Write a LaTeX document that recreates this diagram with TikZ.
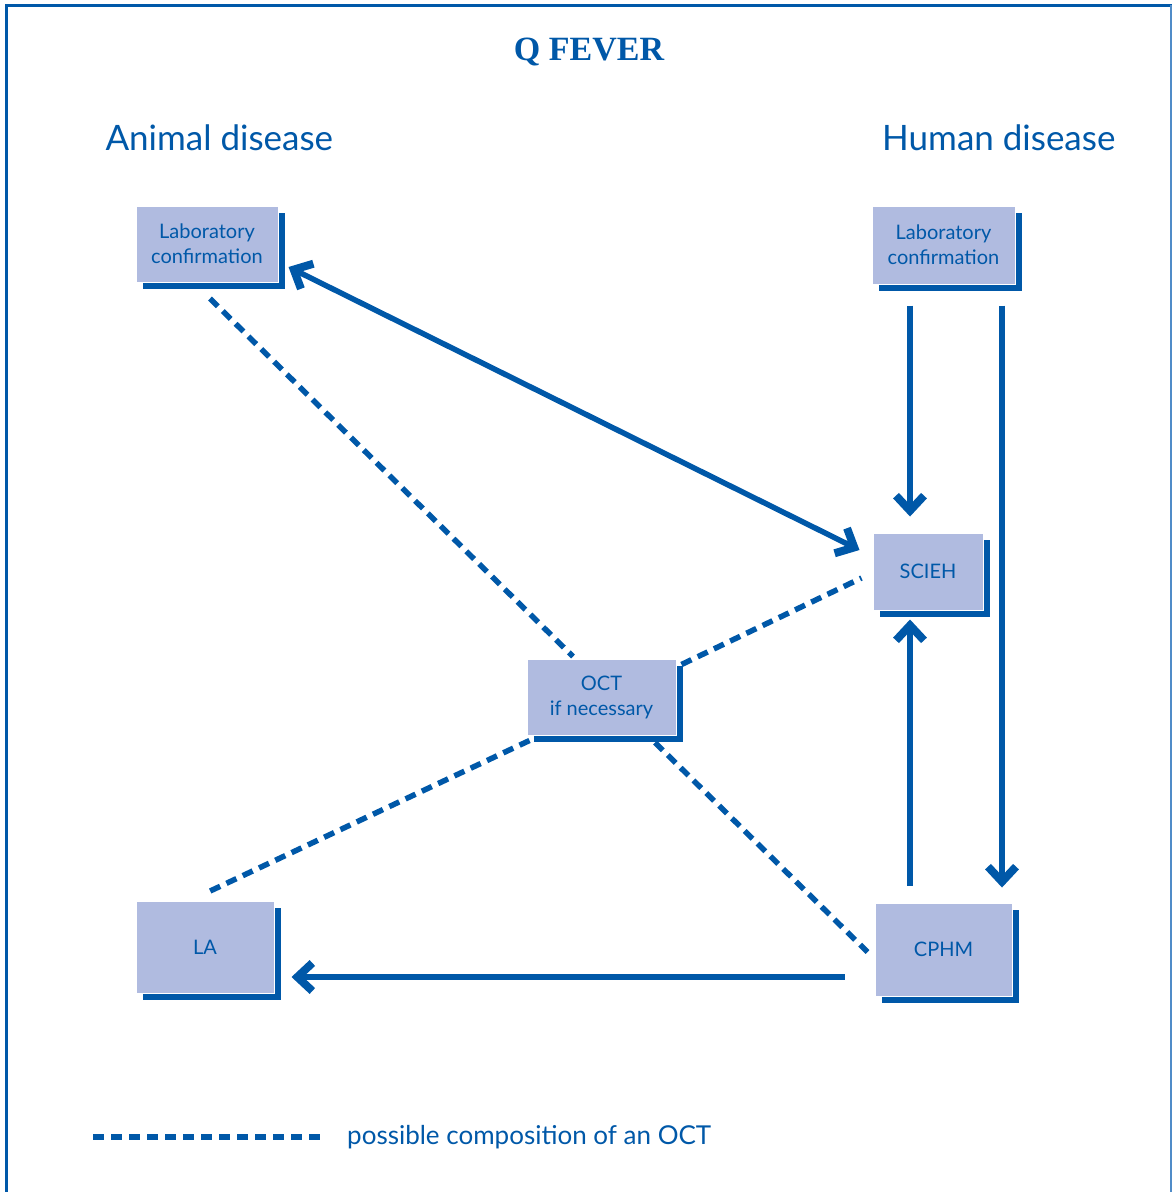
\documentclass[tikz,border=0pt]{standalone}
\usepackage{fontspec}
\setmainfont{Lato}
\newfontfamily\titlefont{Liberation Serif}
\usetikzlibrary{arrows.meta,shadows,calc}
\definecolor{qblue}{RGB}{0,88,168}
\definecolor{qfill}{RGB}{176,187,224}
\definecolor{qframe}{RGB}{80,140,200}
\tikzset{
  qbox/.style={draw=white, line width=1pt, fill=qfill, text=qblue, align=center,
    inner sep=0pt, font=\fontsize{20}{25}\selectfont,
    general shadow={fill=qblue, shadow xshift=7pt, shadow yshift=-7pt}},
  qhead/.style={text=qblue, font=\fontsize{35}{40}\selectfont},
  qtip/.tip={Straight Barb[length=15pt,width=28pt,line width=8pt,line join=miter]},
  qarrow/.style={draw=qblue, line width=5.5pt, -qtip},
  qdash/.style={draw=qblue, line width=5.5pt, dash pattern=on 11pt off 7pt}
}
\begin{document}
\begin{tikzpicture}[x=1pt,y=-1pt]
\useasboundingbox (0,0) rectangle (1172,1192);
% frame
\draw[qblue, line width=3pt] (6,1192) -- (6,5) -- (1172,5);
\draw[qframe, line width=1.5pt] (1171,5) -- (1171,1192);

% headings
\node[text=qblue, font=\titlefont\bfseries\fontsize{34}{36}\selectfont] (title) at (589,52) {Q FEVER};
\node[qhead, anchor=west] (animal) at (102,138) {Animal disease};
\node[qhead, anchor=east] (human) at (1119,138) {Human disease};

% boxes
\node[qbox, minimum width=142pt, minimum height=76pt] (labL) at (207,244) {Laboratory\\confirmation};
\node[qbox, minimum width=143pt, minimum height=78pt] (labR) at (943.5,245) {Laboratory\\confirmation};
\node[qbox, minimum width=110pt, minimum height=77pt] (scieh) at (928,571.5) {SCIEH};
\node[qbox, minimum width=149pt, minimum height=76pt] (oct) at (601.5,697) {OCT\\if necessary};
\node[qbox, minimum width=137pt, minimum height=93pt] (cphm) at (943.5,949.5) {CPHM};
\node[qbox, minimum width=138pt, minimum height=92pt] (la) at (205,947) {LA};

% reporting lines
\draw[qarrow, qtip-qtip]
  ([xshift=10pt,yshift=-23pt]labL.east) -- ([xshift=-13pt,yshift=21.5pt]scieh.west);
\draw[qarrow] ([xshift=-33.5pt,yshift=-21pt]labR.south) -- ([xshift=-18pt,yshift=16pt]scieh.north);
\draw[qarrow] ([xshift=58.5pt,yshift=-21pt]labR.south) -- ([xshift=58.5pt,yshift=15pt]cphm.north);
\draw[qarrow] ([xshift=-33.5pt,yshift=17pt]cphm.north) -- ([xshift=-18pt,yshift=-9pt]scieh.south);
\draw[qarrow] ([xshift=-30pt,yshift=-27.5pt]cphm.west) -- ([xshift=17pt,yshift=-30pt]la.east);

% OCT composition
\draw[qdash] ([xshift=3pt,yshift=-16pt]labL.south) -- ([xshift=-28.5pt,yshift=2pt]oct.north);
\draw[qdash] ([xshift=5pt,yshift=-6pt]oct.north east) -- ([xshift=-11pt,yshift=-6.5pt]scieh.west);
\draw[qdash] ([xshift=3pt,yshift=-5pt]oct.south west) -- ([xshift=2pt,yshift=8pt]la.north);
\draw[qdash] ([xshift=53.5pt,yshift=-7pt]oct.south) -- ([xshift=-7pt,yshift=-2.5pt]cphm.west);

% legend
\coordinate (legA) at (93,1137);
\coordinate (legB) at (325,1137);
\draw[qdash] (legA) -- (legB);
\node[anchor=west, text=qblue, font=\fontsize{26}{30}\selectfont, inner sep=0pt] (legtext) at (347,1137) {possible composition of an OCT};
\end{tikzpicture}
\end{document}
